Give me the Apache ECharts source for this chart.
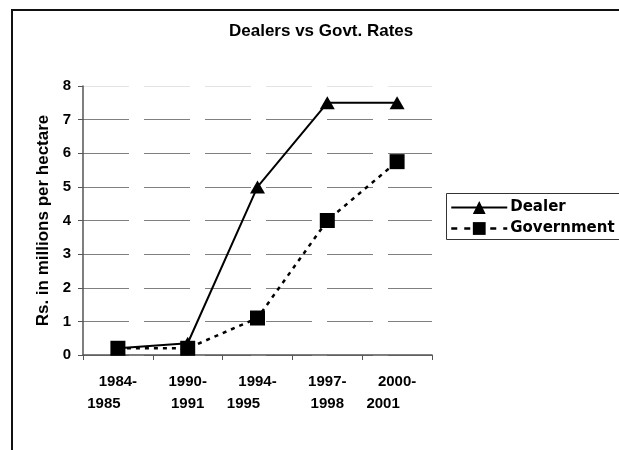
<!DOCTYPE html>
<html>
<head>
<meta charset="utf-8">
<script src="https://cdn.jsdelivr.net/npm/echarts@6/dist/echarts.min.js"></script>
<style>
  html, body { margin: 0; padding: 0; background: #fff; }
  #chart { width: 619px; height: 450px; }
</style>
</head>
<body>
<div id="chart"></div>
<script>
const periods = ["1984-1985", "1990-1991", "1994-1995", "1997-1998", "2000-2001"];
const dealer = [0.2, 0.35, 5, 7.5, 7.5];
const government = [0.2, 0.2, 1.1, 4, 5.75];
const yTicks = [0, 1, 2, 3, 4, 5, 6, 7, 8];

const sans = "'Liberation Sans', Arial, sans-serif";
const gridColors = yTicks.map((v, i) => (i === yTicks.length - 1 ? "#e4e4e4" : "#808080"));

const chart = echarts.init(document.getElementById("chart"));

chart.setOption({
  animation: false,
  backgroundColor: "#fff",
  graphic: [
    {
      type: "rect",
      shape: { x: 12, y: 10, width: 800, height: 600 },
      style: { fill: "none", stroke: "#111", lineWidth: 2 },
      silent: true,
    },
    {
      // legend frame, runs off the right edge like the original
      type: "rect",
      shape: { x: 446.5, y: 193.5, width: 300, height: 46 },
      style: { fill: "none", stroke: "#333", lineWidth: 1 },
      silent: true,
    },
  ],
  title: {
    text: "Dealers vs Govt. Rates",
    left: 229,
    top: 23,
    padding: 0,
    textStyle: { fontFamily: sans, fontSize: 17, fontWeight: "bold", color: "#000" },
  },
  legend: {
    orient: "vertical",
    left: 450,
    top: 200,
    padding: 0,
    itemWidth: 56,
    itemHeight: 16,
    itemGap: 6,
    textStyle: { fontFamily: "'DejaVu Sans', sans-serif", fontSize: 15, fontWeight: "bold", color: "#000", padding: [0, 0, 0, -2] },
    data: [
      { name: "Dealer", lineStyle: { width: 2 } },
      { name: "Government", lineStyle: { width: 2.5, type: [6, 7] } },
    ],
  },
  grid: { left: 83, right: 187, top: 86, bottom: 95, containLabel: false },
  xAxis: {
    type: "category",
    data: periods,
    axisLine: { lineStyle: { color: "#555", width: 1.5 } },
    axisTick: { show: true, length: 5, lineStyle: { color: "#555" } },
    axisLabel: {
      margin: 16,
      interval: 0,
      formatter: (v, i) => {
        const [a, b] = v.split("-");
        return "{t|" + a + "-}\n{" + (i % 2 ? "t" : "s") + "|" + b + "}";
      },
      rich: {
        t: { fontFamily: sans, fontSize: 15, fontWeight: "bold", color: "#000", lineHeight: 22 },
        s: { fontFamily: sans, fontSize: 15, fontWeight: "bold", color: "#000", lineHeight: 22, padding: [0, 28, 0, 0] },
      },
    },
    splitLine: { show: false },
  },
  yAxis: {
    type: "value",
    min: yTicks[0],
    max: yTicks[yTicks.length - 1],
    interval: 1,
    name: "Rs. in millions per hectare",
    nameLocation: "middle",
    nameRotate: 90,
    nameGap: 27,
    nameTextStyle: { fontFamily: sans, fontSize: 17, fontWeight: "bold", color: "#000" },
    axisLine: { show: true, lineStyle: { color: "#555", width: 1.5 } },
    axisTick: { show: true, length: 5, lineStyle: { color: "#555" } },
    axisLabel: { margin: 12, fontFamily: sans, fontSize: 15, fontWeight: "bold", color: "#000" },
    splitLine: { show: true, lineStyle: { color: gridColors, width: 1, type: [46, 15] } },
  },
  series: [
    {
      name: "Dealer",
      type: "line",
      data: dealer,
      symbol: "triangle",
      symbolSize: [15, 13],
      itemStyle: { color: "#000" },
      lineStyle: { color: "#000", width: 2 },
      z: 3,
    },
    {
      name: "Government",
      type: "line",
      data: government,
      symbol: "rect",
      symbolSize: 15,
      itemStyle: { color: "#000" },
      lineStyle: { color: "#000", width: 2.5, type: [4, 5] },
      z: 2,
    },
  ],
});
</script>
</body>
</html>
